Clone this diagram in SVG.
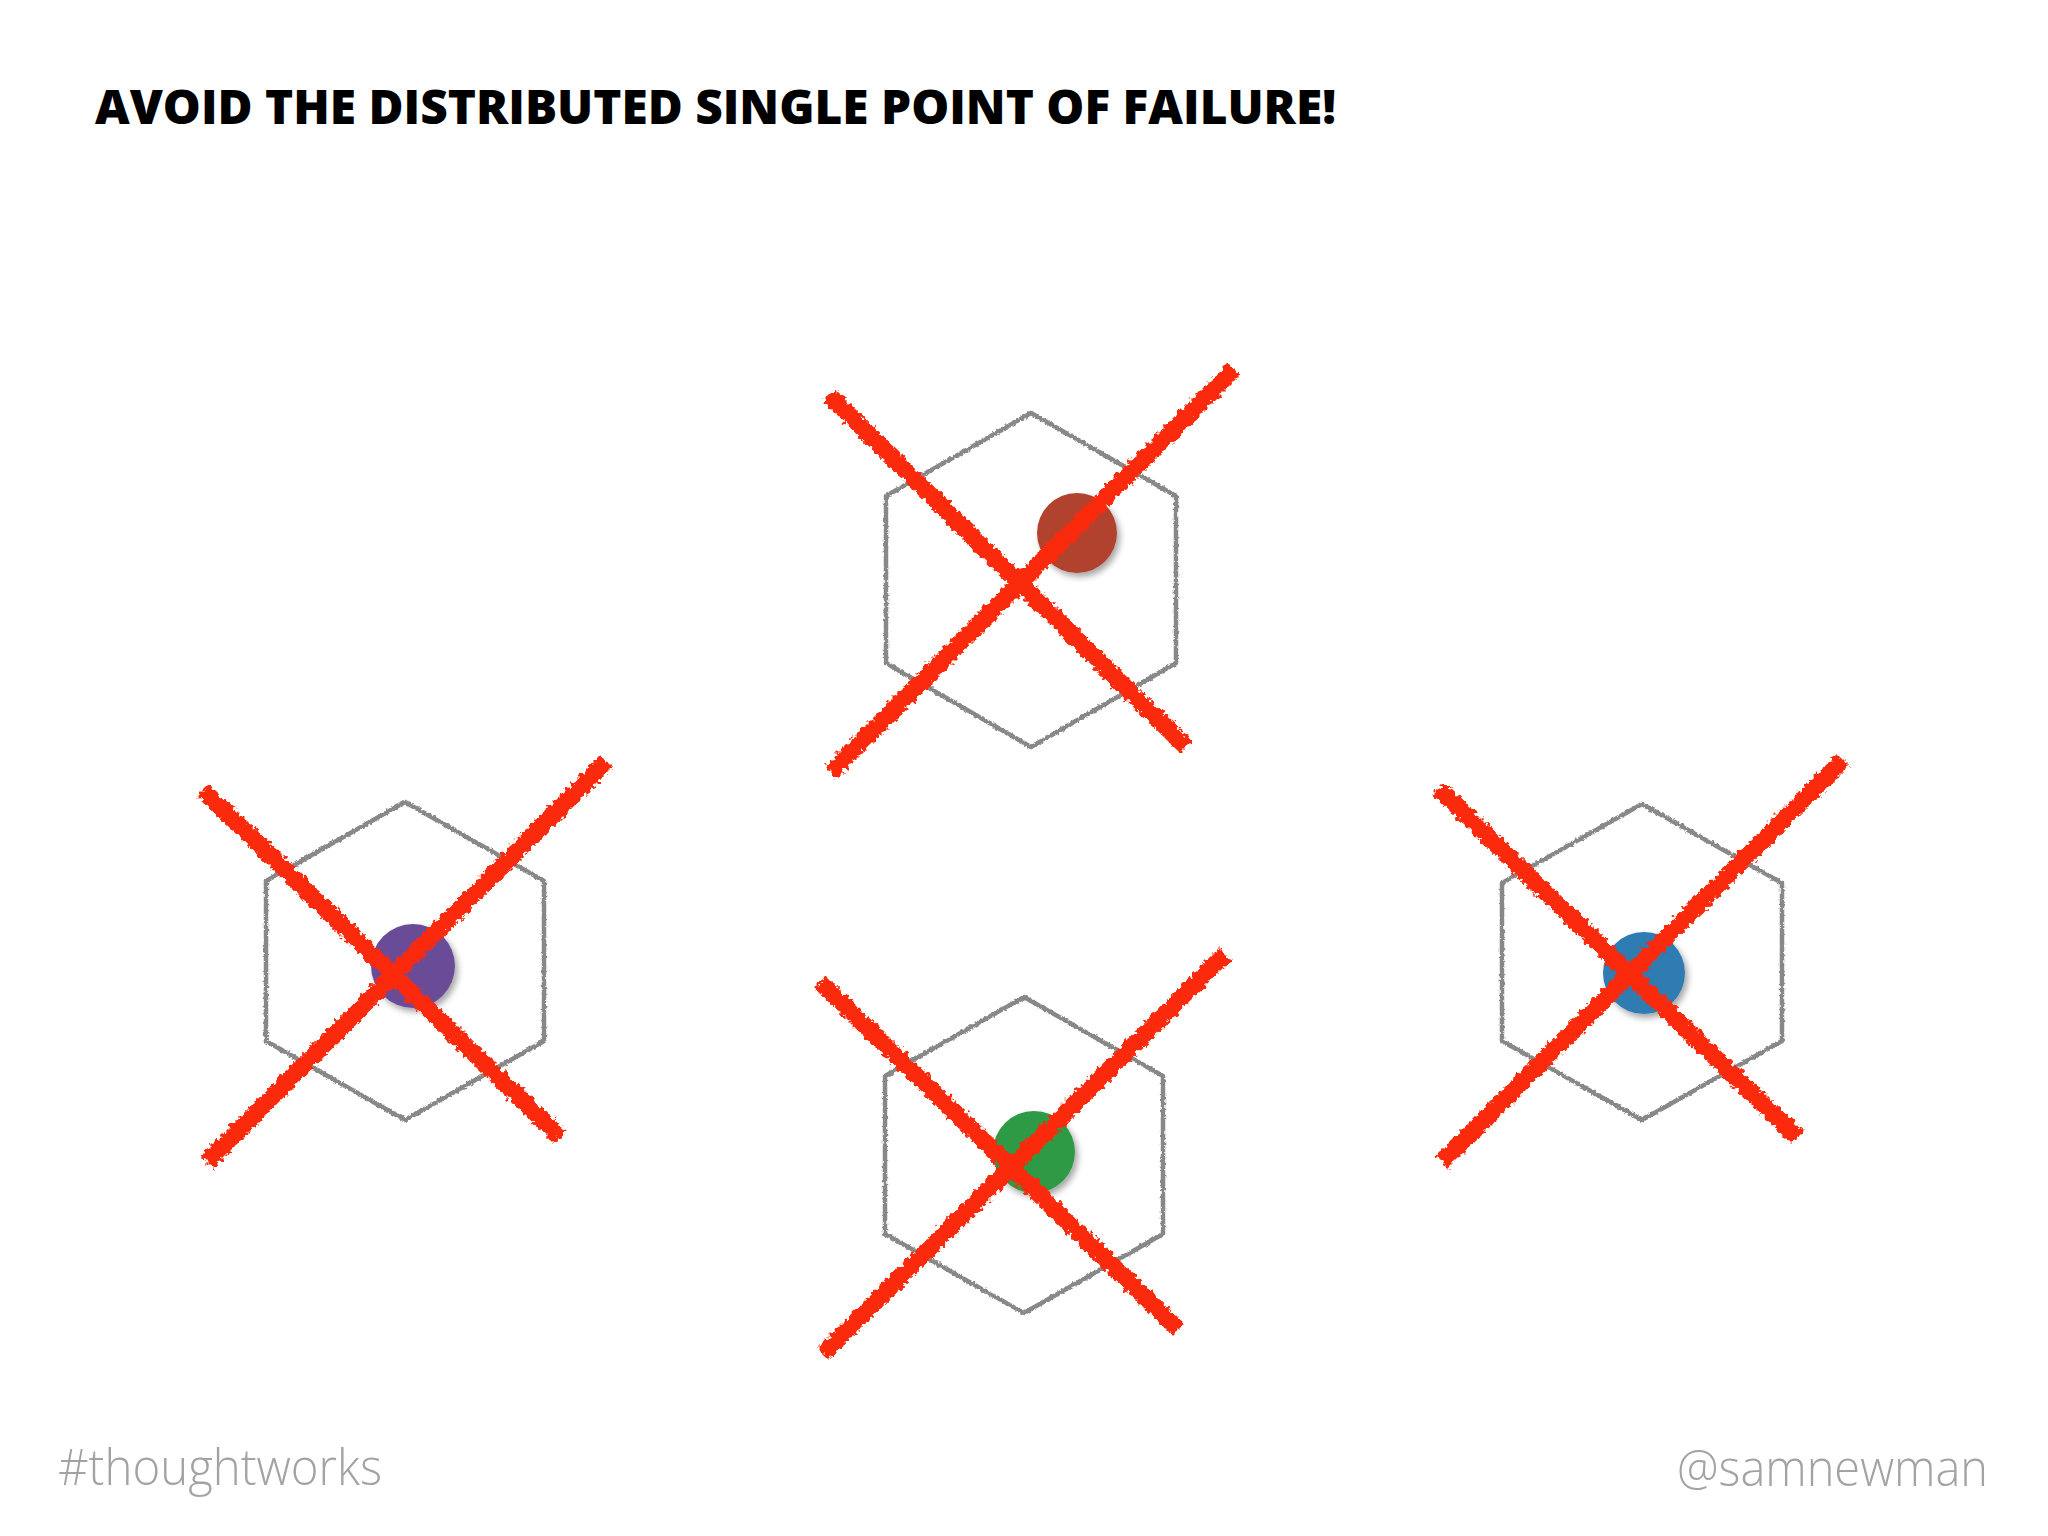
<svg xmlns="http://www.w3.org/2000/svg" width="2048" height="1536" viewBox="0 0 2048 1536">
  <style>
    .title { font-family: "Open Sans", "Liberation Sans", sans-serif; font-weight: 800; font-size: 47px; fill: #000; }
    .foot { font-family: "Open Sans", "Liberation Sans", sans-serif; font-weight: 300; font-size: 50px; fill: #a3a3a3; }
    .hex { fill: none; stroke: #888888; stroke-width: 4.5; stroke-linejoin: round; filter: url(#roughGrey); }
    .dot { filter: url(#shadow); }
    .cross { fill: none; stroke: #fb2a0c; stroke-width: 17; stroke-linecap: butt; filter: url(#roughRed); }
  </style>
  <defs>
    <filter id="roughRed" x="-10%" y="-10%" width="120%" height="120%">
      <feTurbulence type="fractalNoise" baseFrequency="0.22" numOctaves="3" seed="3" result="n"/>
      <feDisplacementMap in="SourceGraphic" in2="n" scale="9" xChannelSelector="R" yChannelSelector="G"/>
    </filter>
    <filter id="roughGrey" x="-5%" y="-5%" width="110%" height="110%">
      <feTurbulence type="fractalNoise" baseFrequency="0.35" numOctaves="2" seed="7" result="n"/>
      <feDisplacementMap in="SourceGraphic" in2="n" scale="3.5" xChannelSelector="R" yChannelSelector="G"/>
    </filter>
    <filter id="shadow" x="-30%" y="-30%" width="160%" height="160%">
      <feDropShadow dx="3" dy="4" stdDeviation="3" flood-color="#000" flood-opacity="0.35"/>
    </filter>
  </defs>
  <rect width="2048" height="1536" fill="#ffffff"/>

  <text class="title" x="95" y="124" textLength="1241" lengthAdjust="spacingAndGlyphs">AVOID THE DISTRIBUTED SINGLE POINT OF FAILURE!</text>

  <g id="node-top">
    <polygon class="hex" points="1031,413 1176,496 1176,663 1031,747 886,663 886,496"/>
    <circle class="dot" cx="1077" cy="533" r="40" fill="#b0432f"/>
    <path class="cross" d="M829,395 L1186,747 M831,772 L1234,369"/>
  </g>

  <g id="node-left">
    <polygon class="hex" points="405,802 544,881 544,1041 405,1120 266,1041 266,881"/>
    <circle class="dot" cx="413" cy="966" r="42" fill="#6b4b98"/>
    <path class="cross" d="M203,790 L560,1137 M207,1162 L606,762"/>
  </g>

  <g id="node-bottom">
    <polygon class="hex" points="1024,997 1163,1076 1163,1234 1024,1313 885,1234 885,1076"/>
    <circle class="dot" cx="1034" cy="1152" r="41" fill="#2e9a45"/>
    <path class="cross" d="M820,982 L1178,1329 M823,1354 L1225,954"/>
  </g>

  <g id="node-right">
    <polygon class="hex" points="1642,804 1782,883 1782,1041 1642,1120 1502,1041 1502,883"/>
    <circle class="dot" cx="1644" cy="973" r="41" fill="#2f7cb2"/>
    <path class="cross" d="M1438,788 L1797,1137 M1442,1162 L1843,760"/>
  </g>

  <g id="connectors"></g>

  <text class="foot" x="58" y="1485" textLength="324" lengthAdjust="spacingAndGlyphs">#thoughtworks</text>
  <text class="foot" x="1677" y="1486" textLength="311" lengthAdjust="spacingAndGlyphs">@samnewman</text>
</svg>
